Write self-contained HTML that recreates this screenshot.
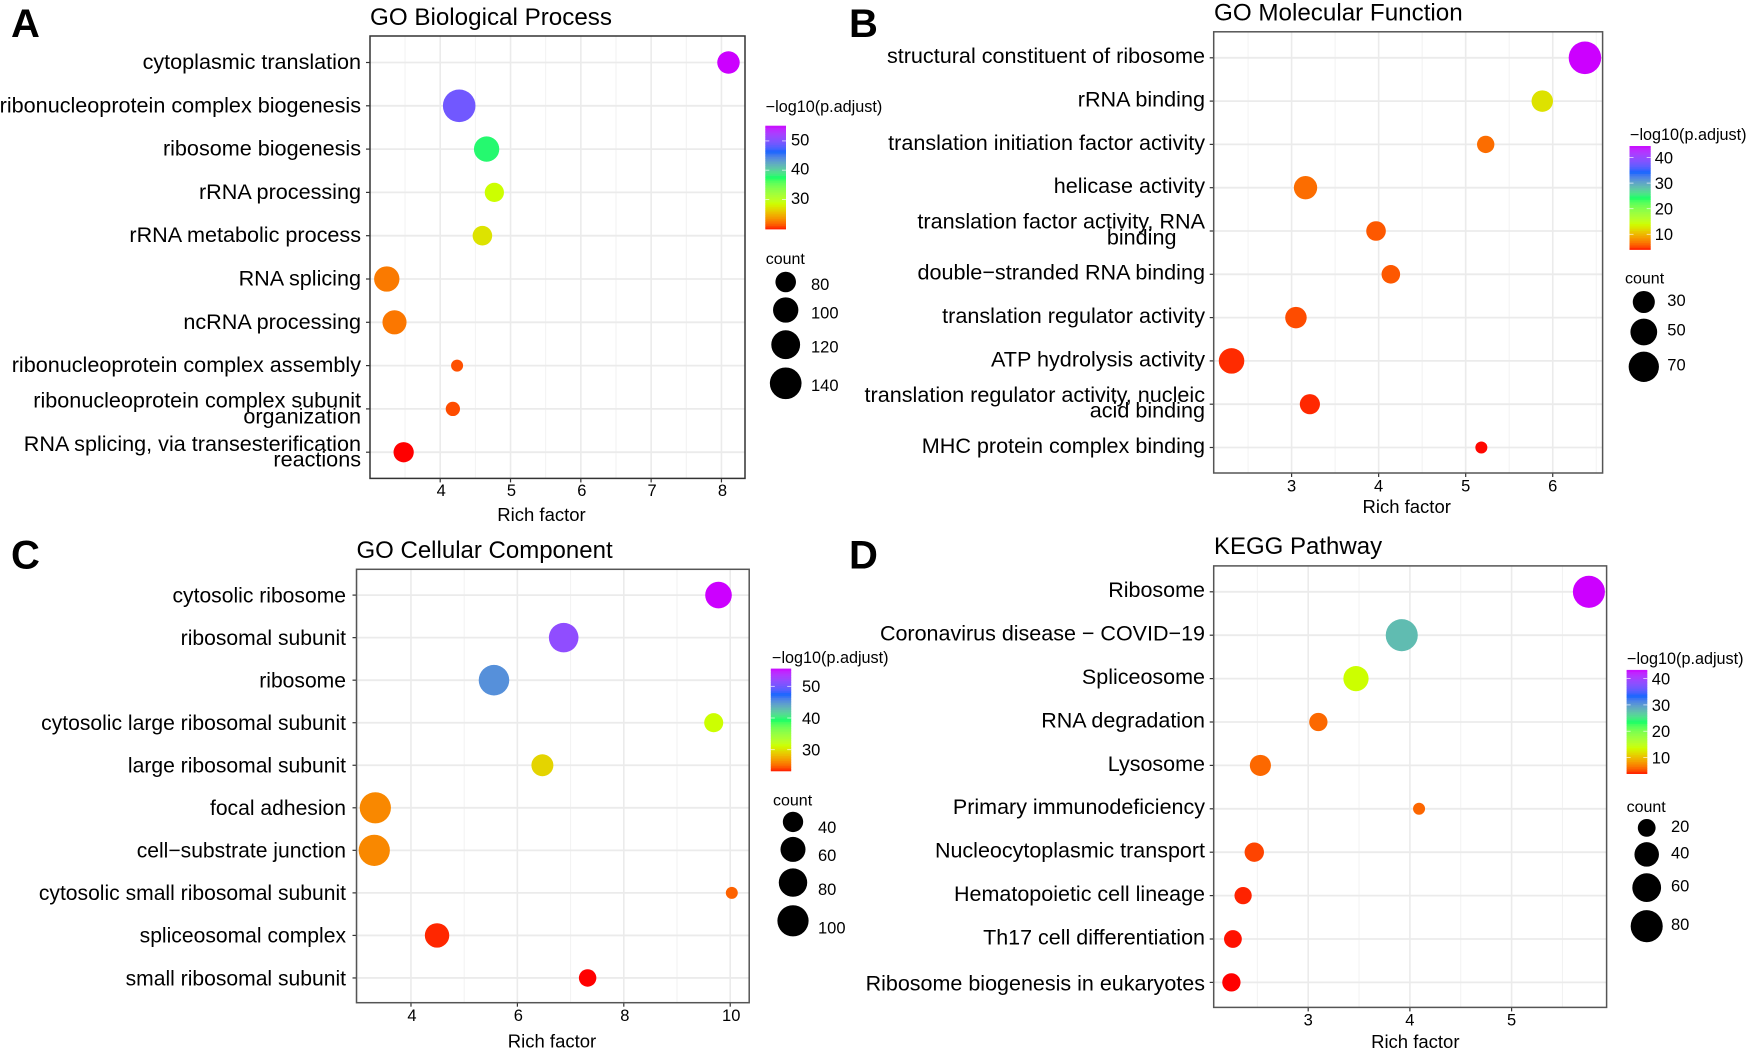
<!DOCTYPE html>
<html lang="en">
<head>
<meta charset="utf-8">
<title>GO and KEGG enrichment bubble charts</title>
<style>
  html, body { margin: 0; padding: 0; background: #fff; }
  #figure { display: block; width: 1748px; height: 1051px; }
  text { font-family: "Liberation Sans", Arial, sans-serif; fill: #000; }
</style>
</head>
<body>
<svg id="figure" xmlns="http://www.w3.org/2000/svg" width="1748" height="1051" viewBox="0 0 1748 1051"></svg>
<script>
// ---------- Panel A data ----------
const bpTerms = ["cytoplasmic translation", "ribonucleoprotein complex biogenesis", "ribosome biogenesis", "rRNA processing", "rRNA metabolic process", "RNA splicing", "ncRNA processing", "ribonucleoprotein complex assembly", "ribonucleoprotein complex subunit\norganization", "RNA splicing, via transesterification\nreactions"];
const bpRich = [8.10, 4.27, 4.66, 4.77, 4.60, 3.24, 3.35, 4.24, 4.18, 3.48];
const bpCount = [87, 147, 100, 76, 77, 100, 94, 66, 67, 79];
const bpLog = [55.2, 49.2, 37.9, 28.7, 27.3, 22.5, 22.4, 21.1, 21, 19.9];
const bpXTicks = [4, 5, 6, 7, 8];
const bpColorTicks = [30, 40, 50];
const bpCountTicks = [80, 100, 120, 140];

// ---------- Panel B data ----------
const mfTerms = ["structural constituent of ribosome", "rRNA binding", "translation initiation factor activity", "helicase activity", "translation factor activity, RNA\nbinding", "double\u2212stranded RNA binding", "translation regulator activity", "ATP hydrolysis activity", "translation regulator activity, nucleic\nacid binding", "MHC protein complex binding"];
const mfRich = [6.37, 5.88, 5.23, 3.16, 3.97, 4.14, 3.05, 2.31, 3.21, 5.18];
const mfCount = [85, 28, 17.5, 34.6, 22.5, 20, 28, 44, 24, 12.5];
const mfLog = [44.5, 12.5, 6.5, 6.5, 5.7, 5.7, 5.3, 4.5, 4.45, 4.1];
const mfXTicks = [3, 4, 5, 6];
const mfColorTicks = [10, 20, 30, 40];
const mfCountTicks = [30, 50, 70];

// ---------- Panel C data ----------
const ccTerms = ["cytosolic ribosome", "ribosomal subunit", "ribosome", "cytosolic large ribosomal subunit", "large ribosomal subunit", "focal adhesion", "cell\u2212substrate junction", "cytosolic small ribosomal subunit", "spliceosomal complex", "small ribosomal subunit"];
const ccRich = [9.78, 6.87, 5.56, 9.69, 6.47, 3.33, 3.31, 10.03, 4.49, 7.32];
const ccCount = [68.7, 88, 95, 36, 46, 100, 100, 26, 57, 32];
const ccLog = [55.6, 51.7, 45.3, 31.4, 29.4, 26.2, 26.2, 24.9, 23.6, 23.3];
const ccXTicks = [4, 6, 8, 10];
const ccColorTicks = [30, 40, 50];
const ccCountTicks = [40, 60, 80, 100];

// ---------- Panel D data ----------
const keggTerms = ["Ribosome", "Coronavirus disease \u2212 COVID\u221219", "Spliceosome", "RNA degradation", "Lysosome", "Primary immunodeficiency", "Nucleocytoplasmic transport", "Hematopoietic cell lineage", "Th17 cell differentiation", "Ribosome biogenesis in eukaryotes"];
const keggRich = [5.76, 3.92, 3.47, 3.10, 2.53, 4.09, 2.47, 2.36, 2.26, 2.245];
const keggCount = [80, 80, 43, 21, 28, 14.5, 23.4, 19, 20, 21];
const keggLog = [43.3, 27.9, 13.75, 6.07, 6.07, 6, 4.9, 4.2, 4, 3.9];
const keggXTicks = [3, 4, 5];
const keggColorTicks = [10, 20, 30, 40];
const keggCountTicks = [20, 40, 60, 80];

// ---------- Colour stops: rainbow(5) ----------
const colorStops = ["#FF0000", "#CCFF00", "#00FF66", "#0066FF", "#CC00FF"];

// ---------- Layout ----------
const panels = [
  { id: "a", letter: "A", lx: 11, ly: 37, title: "GO Biological Process", tx: 370, ty: 25, tSize: 24.2,
    box: [370, 745, 36, 478.4], borderColor: "#333", xDom: [3.0015, 8.335], rowY: [62.5, 43.3], labelX: 361, labelSize: 21.6, labelDy: 0, rowShift: {},
    terms: bpTerms, rich: bpRich, count: bpCount, log: bpLog, xTicks: bpXTicks, xLabDx: 1, xLabY: 496, xTitle: [541.5, 521],
    cDom: [19.9, 55.2], cTicks: bpColorTicks, bar: [765.3, 786, 125.7, 229], cTitle: [765.7, 112], cLabX: 791, cLabDy: -1.5,
    sDom: [66, 147], sTicks: bpCountTicks, sTitle: [765.7, 264], keyX: 785.7, keyY: [282, 310, 344.7, 383.3], keyLabX: 811, keyLabY: [284, 312.7, 346.7, 385.3], lineShift: {} },
  { id: "b", letter: "B", lx: 849, ly: 37, title: "GO Molecular Function", tx: 1214, ty: 20.5, tSize: 24.2,
    box: [1213.7, 1602.6, 31.8, 473], borderColor: "#555", xDom: [2.105, 6.573], rowY: [57.8, 43.3], labelX: 1205, labelSize: 21.6, labelDy: -1.1, rowShift: {},
    terms: mfTerms, rich: mfRich, count: mfCount, log: mfLog, xTicks: mfXTicks, xLabDx: 0, xLabY: 491.5, xTitle: [1406.7, 513],
    cDom: [4.06, 44.5], cTicks: mfColorTicks, bar: [1629.5, 1650.7, 146, 249.5], cTitle: [1630, 140], cLabX: 1654.7, cLabDy: 0,
    sDom: [12.5, 85.5], sTicks: mfCountTicks, sTitle: [1625, 283.5], keyX: 1643.8, keyY: [302, 332, 366.8], keyLabX: 1667.3, keyLabY: [300, 329.6, 364.8], lineShift: { 4: -28.5 } },
  { id: "c", letter: "C", lx: 11, ly: 568.5, title: "GO Cellular Component", tx: 356.5, ty: 558, tSize: 24,
    box: [356.5, 749.2, 569.3, 1002.7], borderColor: "#555", xDom: [2.976, 10.357], rowY: [595.1, 42.54], labelX: 346, labelSize: 21.1, labelDy: 0.8, rowShift: {},
    terms: ccTerms, rich: ccRich, count: ccCount, log: ccLog, xTicks: ccXTicks, xLabDx: 1, xLabY: 1021, xTitle: [552, 1047.5],
    cDom: [23.3, 55.6], cTicks: ccColorTicks, bar: [770.8, 791.2, 668.6, 770.9], cTitle: [772, 663], cLabX: 802, cLabDy: 0,
    sDom: [26, 111], sTicks: ccCountTicks, sTitle: [773, 805.5], keyX: 793, keyY: [821.9, 849.4, 882.6, 920.8], keyLabX: 818, keyLabY: [826.9, 855, 889, 927.5], lineShift: {} },
  { id: "d", letter: "D", lx: 849, ly: 568.5, title: "KEGG Pathway", tx: 1214, ty: 554, tSize: 24,
    box: [1213.7, 1606.6, 565.9, 1007.4], borderColor: "#555", xDom: [2.071, 5.934], rowY: [591.8, 43.4], labelX: 1205, labelSize: 21.5, labelDy: -1.1, rowShift: { 9: 2.6 },
    terms: keggTerms, rich: keggRich, count: keggCount, log: keggLog, xTicks: keggXTicks, xLabDx: 0, xLabY: 1025.5, xTitle: [1415.3, 1048],
    cDom: [3.9, 43.3], cTicks: keggColorTicks, bar: [1626.6, 1647.3, 669.9, 773.6], cTitle: [1627, 664], cLabX: 1651.8, cLabDy: 0,
    sDom: [14.5, 83.5], sTicks: keggCountTicks, sTitle: [1626.6, 812], keyX: 1646.7, keyY: [827.9, 854.4, 887.6, 926.2], keyLabX: 1671, keyLabY: [826.2, 852.7, 885.6, 923.9], lineShift: {} }
];

const svg = document.getElementById("figure");
const NS = "http://www.w3.org/2000/svg";

function make(tag, parent, attrs, text) {
  const el = document.createElementNS(NS, tag);
  for (const k in attrs) el.setAttribute(k, attrs[k]);
  if (text !== undefined) el.textContent = text;
  parent.appendChild(el);
  return el;
}

// Lab colour interpolation (as used by ggplot2 gradients)
function hexToLab(hex) {
  const c = [1, 3, 5].map(function (i) {
    const v = parseInt(hex.substr(i, 2), 16) / 255;
    return v <= 0.04045 ? v / 12.92 : Math.pow((v + 0.055) / 1.055, 2.4);
  });
  const x = (0.4124 * c[0] + 0.3576 * c[1] + 0.1805 * c[2]) / 0.95047;
  const y = 0.2126 * c[0] + 0.7152 * c[1] + 0.0722 * c[2];
  const z = (0.0193 * c[0] + 0.1192 * c[1] + 0.9505 * c[2]) / 1.08883;
  const f = function (t) { return t > 0.008856 ? Math.cbrt(t) : 7.787 * t + 16 / 116; };
  return [116 * f(y) - 16, 500 * (f(x) - f(y)), 200 * (f(y) - f(z))];
}
function labToCss(lab) {
  const fy = (lab[0] + 16) / 116, fx = lab[1] / 500 + fy, fz = fy - lab[2] / 200;
  const g = function (t) { return t > 0.206893 ? t * t * t : (t - 16 / 116) / 7.787; };
  const x = g(fx) * 0.95047, y = g(fy), z = g(fz) * 1.08883;
  const rgb = [3.2406 * x - 1.5372 * y - 0.4986 * z, -0.9689 * x + 1.8758 * y + 0.0415 * z, 0.0557 * x - 0.204 * y + 1.057 * z];
  const out = rgb.map(function (v) {
    const w = v <= 0.0031308 ? 12.92 * v : 1.055 * Math.pow(v, 1 / 2.4) - 0.055;
    return Math.round(Math.min(1, Math.max(0, w)) * 255);
  });
  return "rgb(" + out.join(",") + ")";
}
const labStops = colorStops.map(hexToLab);
function colorAt(t) {
  const s = Math.min(0.99999, Math.max(0, t)) * (labStops.length - 1);
  const i = Math.floor(s), f = s - i;
  return labToCss(labStops[i].map(function (v, k) { return v + (labStops[i + 1][k] - v) * f; }));
}

function drawPanel(p) {
  const left = p.box[0], right = p.box[1], top = p.box[2], bottom = p.box[3];
  const xScale = function (v) { return left + (v - p.xDom[0]) / (p.xDom[1] - p.xDom[0]) * (right - left); };
  const yScale = function (i) { return p.rowY[0] + i * p.rowY[1]; };
  const colorScale = function (v) { return colorAt((v - p.cDom[0]) / (p.cDom[1] - p.cDom[0])); };
  const sizeScale = function (c) {
    const t = Math.max(0, Math.min(1, (c - p.sDom[0]) / (p.sDom[1] - p.sDom[0])));
    return 6 + 10.3 * Math.sqrt(t);
  };

  const g = make("g", svg, {});
  
  

  const letter = make("text", g, { x: p.lx, y: p.ly, "font-size": 40, "font-weight": "bold" }, p.letter);
  
  

  const title = make("text", g, { x: p.tx, y: p.ty, "font-size": p.tSize }, p.title);
  
  

  // Gridlines
  const grid = make("g", g, {});
  
  
  const step = p.xTicks[1] - p.xTicks[0];
  for (let v = p.xTicks[0] - step / 2; v <= p.xDom[1]; v += step / 2) {
    if (v < p.xDom[0]) continue;
    const isMajor = p.xTicks.indexOf(v) >= 0;
    make("line", grid, { x1: xScale(v), x2: xScale(v), y1: top, y2: bottom, stroke: isMajor ? "#ebebeb" : "#f2f2f2", "stroke-width": isMajor ? 1.6 : 1 });
  }
  p.terms.forEach(function (t, i) {
    make("line", grid, { x1: left, x2: right, y1: yScale(i), y2: yScale(i), stroke: "#ebebeb", "stroke-width": 1.8 });
  });

  // Y axis labels and ticks
  p.terms.forEach(function (term, i) {
    const y = yScale(i);
    const ly = y + p.labelDy + (p.rowShift[i] || 0);
    const tick = make("line", g, { x1: left - 4, x2: left, y1: y, y2: y, stroke: "#333", "stroke-width": 1.2 });
    
    
    const parts = term.split("\n");
    const label = make("text", g, { "font-size": p.labelSize, "text-anchor": "end" });
    
    
    if (parts.length === 1) {
      label.setAttribute("x", p.labelX);
      label.setAttribute("y", ly + 6.5);
      label.textContent = term;
    } else {
      make("tspan", label, { x: p.labelX, y: ly - 1.2 }, parts[0]);
      make("tspan", label, { x: p.labelX + (p.lineShift[i] || 0), y: ly + 14.5 }, parts[1]);
    }
  });

  // X axis ticks and labels
  p.xTicks.forEach(function (v) {
    const x = xScale(v);
    const tick = make("line", g, { x1: x, x2: x, y1: bottom, y2: bottom + 4, stroke: "#333", "stroke-width": 1.2 });
    
    
    const label = make("text", g, { x: x + p.xLabDx, y: p.xLabY, "font-size": 16.5, "text-anchor": "middle" }, v);
    
    
  });
  const xTitle = make("text", g, { x: p.xTitle[0], y: p.xTitle[1], "font-size": 18.5, "text-anchor": "middle" }, "Rich factor");
  
  

  // Bubbles
  p.rich.forEach(function (v, i) {
    const dot = make("circle", g, { cx: xScale(v), cy: yScale(i), r: sizeScale(p.count[i]), fill: colorScale(p.log[i]) });
    
    
  });

  // Panel border
  const border = make("rect", g, { x: left, y: top, width: right - left, height: bottom - top, fill: "none", stroke: p.borderColor, "stroke-width": 1.5 });
  
  

  // Colour legend
  const cTitle = make("text", g, { x: p.cTitle[0], y: p.cTitle[1], "font-size": 16.2 }, "\u2212log10(p.adjust)");
  
  
  const barG = make("g", g, {});
  
  
  const bx0 = p.bar[0], bx1 = p.bar[1], by0 = p.bar[2], by1 = p.bar[3];
  const steps = 60;
  for (let k = 0; k < steps; k++) {
    const h = (by1 - by0) / steps;
    make("rect", barG, { x: bx0, y: by1 - (k + 1) * h, width: bx1 - bx0, height: h + 0.4, fill: colorAt((k + 0.5) / steps) });
  }
  const barY = function (v) { return by1 - (v - p.cDom[0]) / (p.cDom[1] - p.cDom[0]) * (by1 - by0); };
  p.cTicks.forEach(function (v) {
    const y = barY(v);
    make("line", barG, { x1: bx0, x2: bx0 + 4, y1: y, y2: y, stroke: "#fff", "stroke-width": 0.8, "stroke-opacity": 0.8 });
    make("line", barG, { x1: bx1 - 4, x2: bx1, y1: y, y2: y, stroke: "#fff", "stroke-width": 0.8, "stroke-opacity": 0.8 });
    const label = make("text", g, { x: p.cLabX, y: y + 5.9 + p.cLabDy, "font-size": 16.5 }, v);
    
    
  });

  // Size legend
  const sTitle = make("text", g, { x: p.sTitle[0], y: p.sTitle[1], "font-size": 16 }, "count");
  
  
  p.sTicks.forEach(function (c, i) {
    const key = make("circle", g, { cx: p.keyX, cy: p.keyY[i], r: sizeScale(c), fill: "#000" });
    
    
    const label = make("text", g, { x: p.keyLabX, y: p.keyLabY[i] + 5.9, "font-size": 16.5 }, c);
    
    
  });
}

panels.forEach(drawPanel);
</script>
</body>
</html>
